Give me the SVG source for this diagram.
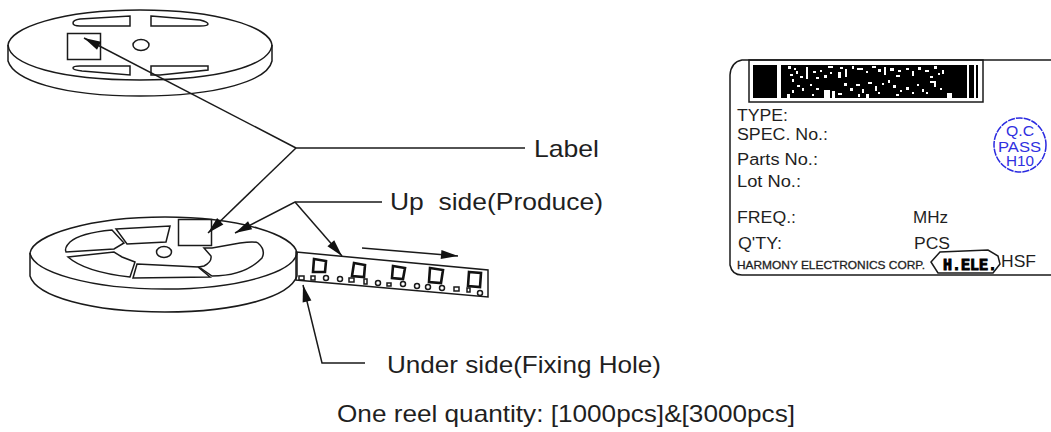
<svg xmlns="http://www.w3.org/2000/svg" width="1051" height="432" viewBox="0 0 1051 432">
<style>
.l{fill:none;stroke:#1a1a1a;stroke-width:1.5}
.p{fill:none;stroke:#111;stroke-width:2.6}
.t{font-family:"Liberation Sans",Arial,sans-serif;fill:#1f1f1f}
.big{font-size:24px}
.sm{font-size:16px}
.w{fill:#fff;stroke:none}
.q{font-family:"Liberation Sans",Arial,sans-serif;fill:#3030e0;font-size:14px}
</style>
<defs>
<marker id="a" markerUnits="userSpaceOnUse" markerWidth="20" markerHeight="10" refX="19" refY="5" orient="auto"><path d="M19,5 L2,0.500 L2,9.500 Z" fill="#111"/></marker>
</defs>
<rect width="1051" height="432" fill="#fff"/>
<g id="reel-top">
<path class="l" d="M8,45 C10,28 60,10 140,10 C220,10 270,28 272,45 C270,65 220,80 140,80 C60,80 10,65 8,45 Z"/>
<path class="l" d="M8,45 V61 C14,80 60,96 140,96 C220,96 268,80 272,61 V45"/>
<rect class="l" x="67.500" y="33.500" width="33" height="26"/>
<ellipse class="l" cx="141" cy="45" rx="8" ry="5.500"/>
<path class="l" d="M73,23 Q73,20 80,19 L130,16 V26 H80 Q73,26 73,23 Z"/>
<path class="l" d="M151,16 L200,20 Q208,22 208,24 Q208,26 200,26 H151 Z"/>
<path class="l" d="M73,68 Q73,66 80,66 H130 V75 L82,71 Q73,70 73,68 Z"/>
<path class="l" d="M151,66 H208 V70 L160,75 H151 Z"/>
</g>
<g id="reel-bottom">
<path class="l" d="M30,253 C33,235 90,217 165,217 C240,217 294,235 297,253 C294,272 240,289 165,289 C90,289 33,272 30,253 Z"/>
<path class="l" d="M30,253 V276 C36,296 90,312 165,312 C240,312 290,296 297,276 V253"/>
<path class="l" d="M112,230 Q80,233 70,242 Q64,248 66,252 L114,249 L124,243 Z"/>
<path class="l" d="M116,229 L170,226 L166,242 L127,244 Z"/>
<path class="l" d="M68,257 L114,252 L122,257 L135,262 L130,277 Q85,272 68,257 Z"/>
<path class="l" d="M137,264 L198,267 L210,277 L133,278 Z"/>
<path class="l" d="M212,248 H204 L211,256 Q212,262 204,266 L199,267 L212,276 Q245,276 262,258 Q266,250 258,243 Q255,241 240,243 L212,248 Z"/>
<ellipse class="l" cx="164" cy="252" rx="7.500" ry="5.500"/>
<rect class="l" x="178.500" y="219.500" width="33" height="26" fill="#fff"/>
</g>
<g id="tape">
<path class="l" d="M296,252 L488,270 V297 L296,280 Z"/>
<g class="p">
<path d="M314,259 L326,261 L325,272 L313,272 Z"/>
<path d="M354,263 L365,265 L364,277 L352,276 Z"/>
<path d="M393,266 L405,268 L403,279 L392,278 Z"/>
<path d="M430,268 L443,270 L441,283 L429,282 Z"/>
<path d="M469,272 L481,273 L480,287 L468,286 Z"/>
</g>
<g class="l">
<rect x="299" y="276" width="5" height="4"/><rect x="311" y="276" width="4" height="4"/>
<circle cx="326" cy="278" r="2.500"/><circle cx="340" cy="279" r="2.500"/>
<rect x="349" y="278" width="5" height="4"/><rect x="364" y="279" width="3" height="5"/>
<circle cx="378" cy="283" r="2.500"/><rect x="387" y="283" width="4" height="3"/><circle cx="403" cy="284" r="2.500"/>
<circle cx="417" cy="286" r="2.500"/><circle cx="428" cy="287" r="2.500"/><circle cx="442" cy="288" r="2.500"/>
<rect x="454" y="287" width="5" height="4"/><rect x="467" y="288" width="3" height="4"/><circle cx="480" cy="293" r="2.500"/>
</g>
</g>
<g id="connectors">
<path class="l" d="M296,148 H525"/>
<path class="l" d="M296,148 L84,38" marker-end="url(#a)"/>
<path class="l" d="M296,148 L208,233" marker-end="url(#a)"/>
<path class="l" d="M382,202 H295 L235,233" marker-end="url(#a)"/>
<path class="l" d="M295,202 L342,256" marker-end="url(#a)"/>
<path class="l" d="M362,248 L458,256" marker-end="url(#a)"/>
<path class="l" d="M365,363 H322 L303,285" marker-end="url(#a)"/>
</g>
<g id="captions">
<text class="t big" x="534" y="157" textLength="65" lengthAdjust="spacingAndGlyphs">Label</text>
<text class="t big" x="390" y="210" textLength="213" lengthAdjust="spacingAndGlyphs" xml:space="preserve">Up  side(Produce)</text>
<text class="t big" x="387" y="373" textLength="274" lengthAdjust="spacingAndGlyphs">Under side(Fixing Hole)</text>
<text class="t big" x="337" y="422" textLength="458" lengthAdjust="spacingAndGlyphs">One reel quantity: [1000pcs]&amp;[3000pcs]</text>
</g>
<g id="product-label">
<path class="l" d="M1051,60 H742 Q731,62 730,75 V265 Q732,275 742,275 H1051"/>
<rect class="l" x="749" y="60" width="234" height="42" stroke-width="2"/>
<rect x="753" y="65" width="225" height="33" fill="#000"/>
<path class="w" d="M777,65h4v33h-4zM967,65h2v33h-2zM974,65h2v33h-2z"/>
<path class="w" d="M788,66h3v3h-3zM794,68h2v2h-2zM790,74h3v2h-3zM796,71h2v3h-2zM792,79h2v3h-2zM800,76h3v2h-3zM806,67h2v12h-2zM813,71h3v2h-3zM820,70h2v2h-2zM816,77h3v2h-3zM824,75h3v3h-3zM830,72h2v2h-2zM828,66h5v2h-5zM840,67h3v2h-3zM838,72h3v6h-3zM845,69h2v8h-2zM852,66h2v3h-2zM857,68h6v2h-6zM866,71h2v2h-2zM872,66h4v2h-4zM878,69h3v3h-3zM884,67h2v8h-2zM890,68h4v3h-4zM898,70h3v2h-3zM896,75h4v2h-4zM906,68h3v2h-3zM912,71h2v5h-2zM918,67h3v3h-3zM925,70h4v2h-4zM934,66h3v3h-3zM938,73h2v2h-2zM930,76h3v2h-3zM942,70h2v4h-2z"/>
<path class="w" d="M792,90h2v3h-2zM797,85h3v2h-3zM787,94h3v4h-3zM802,88h2v3h-2zM810,84h2v2h-2zM816,88h3v2h-3zM824,90h6v8h-6zM832,91h3v7h-3zM838,93h4v2h-4zM844,83h3v3h-3zM850,88h3v3h-3zM856,84h4v2h-4zM862,89h2v4h-2zM868,82h4v2h-4zM875,86h2v5h-2zM882,83h2v2h-2zM888,80h2v3h-2zM893,85h3v3h-3zM900,90h2v2h-2zM896,94h3v2h-3zM906,87h3v3h-3zM912,92h2v2h-2zM917,84h2v2h-2zM922,89h2v3h-2zM930,81h6v2h-6zM934,83h2v4h-2zM926,92h2v2h-2zM940,88h2v2h-2zM947,93h5v5h-5zM878,92h2v2h-2zM866,94h3v4h-3zM858,94h2v3h-2zM812,94h2v2h-2z"/>
<g class="t sm">
<text x="737" y="121" textLength="51" lengthAdjust="spacingAndGlyphs">TYPE:</text>
<text x="737" y="140" textLength="91" lengthAdjust="spacingAndGlyphs">SPEC. No.:</text>
<text x="737" y="165" textLength="81" lengthAdjust="spacingAndGlyphs">Parts No.:</text>
<text x="737" y="187" textLength="64" lengthAdjust="spacingAndGlyphs">Lot No.:</text>
<text x="737" y="223" textLength="59" lengthAdjust="spacingAndGlyphs">FREQ.:</text>
<text x="913" y="223" textLength="35" lengthAdjust="spacingAndGlyphs">MHz</text>
<text x="738" y="249" textLength="44" lengthAdjust="spacingAndGlyphs">Q'TY:</text>
<text x="914" y="249" textLength="36" lengthAdjust="spacingAndGlyphs">PCS</text>
<text x="1001" y="267" textLength="35" lengthAdjust="spacingAndGlyphs" font-size="17">HSF</text>
<text x="737" y="269" textLength="188" lengthAdjust="spacingAndGlyphs" font-size="11" stroke="#1f1f1f" stroke-width=".3">HARMONY ELECTRONICS CORP.</text>
</g>
<g id="qc-stamp">
<ellipse cx="1020" cy="145" rx="26" ry="27" fill="none" stroke="#2a2ae0" stroke-width="1.500" stroke-dasharray="7 1"/>
<text class="q" x="1006" y="136" textLength="28" lengthAdjust="spacingAndGlyphs">Q.C</text>
<text class="q" x="998" y="152" textLength="43" lengthAdjust="spacingAndGlyphs">PASS</text>
<text class="q" x="1006" y="166" textLength="28" lengthAdjust="spacingAndGlyphs">H10</text>
</g>
<g id="logo">
<path class="l" d="M931,262 L940,252 L988,250 L998,256 L1000,264 L993,273 L938,273 Z" stroke-width="2" fill="#fff"/>
<text x="943" y="270" textLength="54" lengthAdjust="spacingAndGlyphs" font-family="'Liberation Mono',monospace" font-weight="bold" font-size="16" stroke="#000">H.ELE.</text>
</g>
</g>
</svg>
